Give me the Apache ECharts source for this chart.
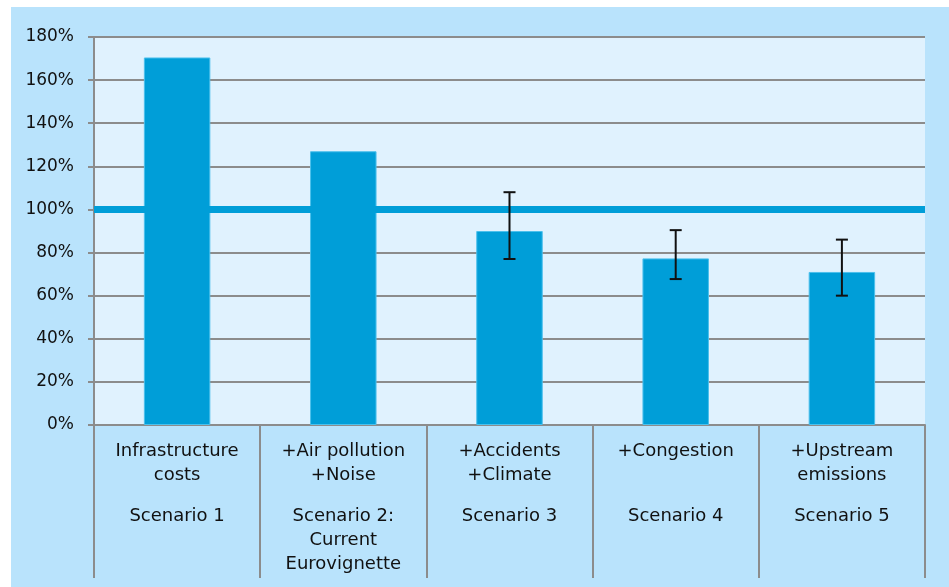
<!DOCTYPE html>
<html>
<head>
<meta charset="utf-8">
<script src="https://cdn.jsdelivr.net/npm/echarts@6/dist/echarts.min.js"></script>
<style>
  html, body { margin: 0; padding: 0; background: #ffffff; }
  #chart { position: absolute; left: 11px; top: 7px; width: 938px; height: 580px; }
</style>
</head>
<body>
<div id="chart"></div>
<script>
// scenario labels (top part, bottom part)
const costLabels = [
  ['Infrastructure', 'costs'],
  ['+Air pollution', '+Noise'],
  ['+Accidents', '+Climate'],
  ['+Congestion', ' '],
  ['+Upstream', 'emissions']
]
const scenarioLabels = [
  ['Scenario 1'],
  ['Scenario 2:', 'Current', 'Eurovignette'],
  ['Scenario 3'],
  ['Scenario 4'],
  ['Scenario 5']
]
const categories = ['s1', 's2', 's3', 's4', 's5']
const values = [170.5, 127, 90, 77.3, 71]
const errLow = [null, null, 77, 67.7, 60]
const errHigh = [null, null, 108, 90.4, 86]
const refLine = 100
const yTicks = { min: 0, max: 180, interval: 20 }

const barColor = '#009ed8'
const gridColor = '#8c8c8c'
const font = 'DejaVu Sans'

const labelText = categories.map((c, i) => {
  const top = costLabels[i].map((t) => '{a|' + t + '}')
  const bottom = scenarioLabels[i].map((t) => '{a|' + t + '}')
  return top.concat(['{g| }']).concat(bottom).join('\n')
})

const errorData = []
for (let i = 0; i < categories.length; i++) {
  if (errLow[i] != null) errorData.push([i, errLow[i], errHigh[i]])
}

const chart = echarts.init(document.getElementById('chart'))
chart.setOption({
  animation: false,
  backgroundColor: '#b9e3fc',
  grid: {
    left: 83,
    right: 24,
    top: 30,
    bottom: 162,
    show: true,
    backgroundColor: '#e0f2fe',
    borderWidth: 0
  },
  xAxis: {
    type: 'category',
    data: categories,
    boundaryGap: true,
    axisLine: { show: true, lineStyle: { color: gridColor, width: 2 } },
    axisTick: {
      show: true,
      interval: 0,
      length: 153,
      lineStyle: { color: gridColor, width: 2 }
    },
    axisLabel: {
      interval: 0,
      margin: 14,
      verticalAlign: 'top',
      formatter: (v, idx) => labelText[idx],
      rich: {
        a: { fontFamily: font, fontSize: 18, lineHeight: 24, color: '#111', align: 'center' },
        g: { fontSize: 4, lineHeight: 17 }
      }
    }
  },
  yAxis: {
    type: 'value',
    min: yTicks.min,
    max: yTicks.max,
    interval: yTicks.interval,
    axisLine: { show: true, lineStyle: { color: gridColor, width: 2 } },
    axisTick: { show: true, length: 6, lineStyle: { color: gridColor, width: 2 } },
    splitLine: { show: true, lineStyle: { color: gridColor, width: 2 } },
    axisLabel: {
      formatter: '{value}%',
      fontFamily: font,
      fontSize: 17,
      color: '#111',
      margin: 20
    }
  },
  series: [
    {
      type: 'bar',
      data: values,
      barWidth: '40%',
      itemStyle: { color: barColor, borderColor: '#4cc0ec', borderWidth: 1 },
      markLine: {
        silent: true,
        symbol: ['none', 'none'],
        label: { show: false },
        lineStyle: { color: barColor, width: 7, type: 'solid' },
        data: [{ yAxis: refLine }],
        z: 5
      }
    },
    {
      type: 'custom',
      z: 10,
      data: errorData,
      renderItem: (params, api) => {
        const lo = api.coord([api.value(0), api.value(1)])
        const hi = api.coord([api.value(0), api.value(2)])
        const half = 6
        const style = { stroke: '#111', lineWidth: 2 }
        return {
          type: 'group',
          children: [
            { type: 'line', shape: { x1: hi[0], y1: hi[1], x2: lo[0], y2: lo[1] }, style },
            { type: 'line', shape: { x1: hi[0] - half, y1: hi[1], x2: hi[0] + half, y2: hi[1] }, style },
            { type: 'line', shape: { x1: lo[0] - half, y1: lo[1], x2: lo[0] + half, y2: lo[1] }, style }
          ]
        }
      }
    }
  ]
})
</script>
</body>
</html>
